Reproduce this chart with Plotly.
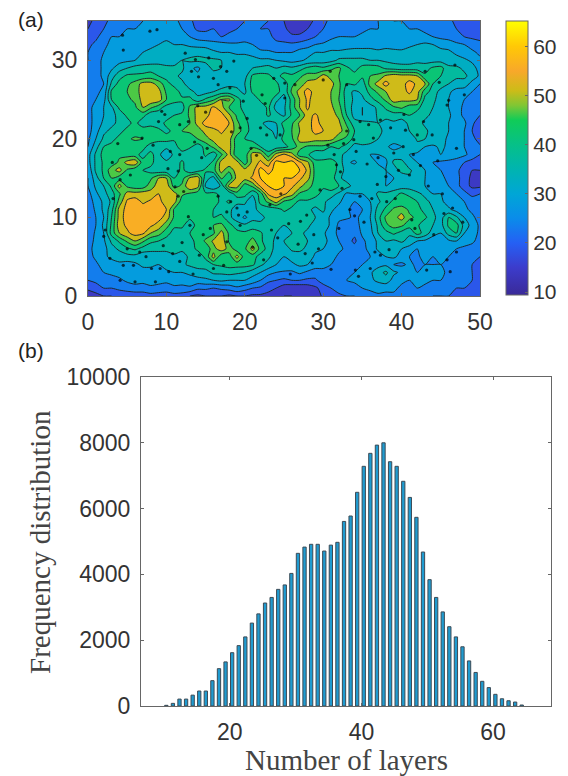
import plotly.graph_objects as go

W, H = 568, 776

# --- panel (a): thickness map, rows listed top to bottom
map_x = list(range(0, 51))
map_y = list(range(35, -1, -1))
map_z = [
 [14,16,18,22,24, 24,25,25,26,27, 27,26,24,21,18, 17,18,17,17,19, 20,21,21,20,18, 15,12,11,13,16, 19,21,21,22,22, 24,24,25,26,25, 25,24,24,23,21, 21,21,19,17,16, 15],
 [15,17,20,23,24, 25,25,26,27,27, 28,27,25,22,19, 19,20,18,19,20, 21,22,20,20,17, 16,13,13,15,18, 20,22,22,23,23, 24,25,25,26,26, 26,25,25,24,22, 22,21,20,18,17, 16],
 [17,19,22,25,25, 26,26,28,28,29, 29,28,27,25,23, 22,22,20,21,21, 23,23,22,21,19, 18,16,16,18,20, 21,24,25,25,25, 26,27,26,27,27, 28,27,27,26,25, 24,23,22,20,19, 18],
 [19,21,24,26,27, 27,28,29,29,30, 31,30,30,29,28, 28,27,27,26,26, 26,25,23,22,21, 21,21,22,23,25, 26,27,27,27,28, 28,28,28,29,27, 28,29,30,31,30, 28,28,26,25,23, 22],
 [20,23,25,26,27, 28,29,30,31,31, 32,31,32,33,34, 33,31,30,30,29, 29,28,26,26,25, 25,25,27,28,30, 30,31,31,32,32, 32,32,31,31,32, 31,32,33,33,32, 32,31,29,27,26, 24],
 [20,23,26,27,28, 29,30,31,32,33, 33,33,35,36,36, 36,36,35,34,33, 33,32,31,31,30, 29,28,29,31,31, 32,33,36,36,36, 36,35,35,34,33, 33,33,34,33,33, 33,33,32,31,29, 26],
 [21,23,26,29,33, 35,37,38,38,37, 36,36,36,31,29, 33,36,35,35,34, 34,35,36,37,35, 37,36,38,41,43, 41,44,46,41,38, 42,43,42,39,38, 37,37,37,38,41, 42,36,36,34,32, 28],
 [22,23,26,33,38, 41,41,41,42,40, 38,36,34,33,31, 30,33,34,33,32, 33,41,42,41,38, 42,41,44,47,46, 52,48,45,44,42, 41,45,46,51,53, 52,52,50,41,43, 40,37,36,36,33, 29],
 [21,24,25,36,42, 44,47,52,52,48, 42,38,36,33,32, 31,31,32,34,34, 35,42,41,42,41, 37,44,47,52,55, 53,52,46,40,41, 37,47,52,57,52, 53,57,54,50,40, 38,35,33,33,28, 25],
 [22,24,26,41,42, 45,48,52,55,52, 44,43,38,36,34, 33,35,37,37,36, 34,41,42,42,43, 36,46,52,57,53, 53,50,46,37,34, 36,42,46,50,55, 53,56,52,42,38, 33,31,28,27,25, 23],
 [23,25,28,40,44, 44,46,52,54,53, 45,42,41,42,36, 41,44,50,51,42, 37,36,41,44,36, 33,42,50,56,53, 52,50,45,38,34, 34,38,42,46,53, 51,52,50,38,36, 33,30,27,25,24, 22],
 [24,26,30,34,41, 42,44,50,46,42, 38,37,38,46,52, 52,56,52,45,41, 39,37,37,41,33, 34,42,50,56,51, 52,51,47,38,33, 30,33,36,41,44, 46,42,42,36,35, 32,30,27,24,23, 22],
 [23,27,30,33,37, 41,43,42,36,37, 38,40,41,46,52, 53,58,57,51,44, 40,37,36,41,37, 34,41,45,53,56, 52,52,49,40,33, 30,31,36,37,38, 37,40,37,36,34, 33,31,27,24,22, 20],
 [23,27,31,34,36, 38,42,36,37,38, 41,42,43,45,52, 57,59,59,55,46, 42,37,36,33,35, 42,44,51,53,57, 53,53,51,44,37, 37,36,35,33,34, 33,36,37,34,33, 32,30,28,26,21, 17],
 [23,28,34,36,38, 42,42,44,45,41, 39,41,45,46,47, 52,53,56,53,48, 42,38,37,36,34, 40,45,50,52,57, 55,53,52,47,40, 38,36,36,34,33, 33,35,36,36,33, 31,30,28,25,20, 18],
 [24,30,36,38,42, 44,46,45,44,42, 42,41,45,42,45, 48,52,53,52,42, 40,38,38,36,35, 42,44,52,54,52, 52,52,46,44,38, 38,38,35,33,33, 33,30,36,35,34, 32,29,27,25,22, 17],
 [25,33,40,42,44, 44,41,42,37,36, 36,37,44,41,37, 42,46,52,52,42, 41,44,40,37,37, 38,42,47,44,44, 44,40,41,38,33, 34,33,31,31,28, 30,31,33,30,29, 31,29,27,25,22, 21],
 [28,36,42,44,44, 42,42,38,42,36, 32,36,37,35,36, 41,37,44,52,41, 42,52,52,42,52, 56,52,42,41,36, 36,35,37,33,33, 31,30,30,31,33, 31,30,29,26,28, 30,30,28,26,23, 20],
 [28,36,41,42,46, 52,54,42,42,36, 36,37,41,36,36, 37,41,52,54,52, 42,52,56,52,62, 60,62,56,51,42, 42,44,38,31,29, 33,34,29,29,36, 37,31,30,27,25, 24,23,22,20,18, 16],
 [26,36,41,48,52, 44,41,40,38,36, 36,36,42,35,38, 41,43,52,46,53, 52,53,62,58,62, 64,62,60,54,43, 42,44,38,33,34, 34,33,33,30,32, 37,36,32,30,28, 25,23,21,18,15, 15],
 [25,33,40,45,42, 40,41,42,44,50, 50,40,43,51,53, 37,33,46,41,52, 52,56,60,62,64, 60,60,56,52,43, 43,43,36,33,33, 31,33,33,30,30, 31,34,32,30,27, 26,24,22,17,14, 14],
 [25,31,35,41,52, 44,42,42,48,52, 53,43,46,55,52, 34,30,36,52,52, 42,46,56,60,62, 60,56,52,46,44, 41,44,40,37,33, 33,33,32,30,31, 32,33,32,30,28, 27,25,22,17,14, 14],
 [23,29,33,38,44, 52,52,53,52,55, 52,52,46,44,42, 41,42,38,36,43, 42,36,42,56,58, 56,52,44,44,42, 38,37,34,29,30, 30,31,36,36,38, 41,38,36,34,30, 30,28,25,22,18, 20],
 [22,27,31,36,47, 56,58,54,56,57, 52,52,42,41,41, 41,44,38,41,36, 36,31,42,46,52, 44,42,39,39,37, 36,33,31,27,25, 26,30,34,38,41, 41,44,40,36,34, 31,28,26,25,24, 22],
 [21,26,31,38,52, 57,56,58,58,56, 55,44,41,42,40, 42,40,37,36,33, 33,34,36,37,37, 41,39,37,36,34, 36,31,28,26,23, 25,29,37,41,46, 48,44,42,38,35, 33,31,28,26,24, 22],
 [22,25,30,40,52, 58,58,56,58,57, 53,44,41,41,42, 41,40,42,36,33, 29,33,34,36,38, 37,37,36,36,35, 33,29,26,26,24, 26,30,38,46,48, 52,46,44,41,36, 33,40,36,30,26, 23],
 [22,25,31,41,53, 56,58,57,56,53, 47,41,41,37,42, 43,45,46,42,37, 36,38,36,36,37, 35,37,40,36,33, 33,29,24,21,22, 27,29,36,44,47, 46,42,41,36,35, 33,41,42,33,28, 24],
 [21,26,30,42,50, 54,57,56,50,47, 42,38,38,40,41, 42,44,52,44,42, 41,42,41,36,35, 34,35,36,34,33, 31,27,24,20,21, 26,28,35,38,41, 38,36,42,38,32, 30,37,40,30,27, 24],
 [23,26,29,36,41, 46,50,46,41,40, 38,37,36,39,41, 46,51,54,44,41, 42,47,41,37,34, 35,36,37,35,33, 31,29,25,22,19, 24,27,31,35,34, 36,33,30,29,27, 28,29,30,27,26, 23],
 [24,26,28,33,36, 39,41,38,37,36, 36,37,36,38,41, 41,48,53,48,42, 44,52,43,38,33, 32,36,36,34,31, 30,28,26,24,22, 24,26,31,32,33, 30,28,25,26,27, 28,27,25,24,23, 21],
 [23,26,29,31,32, 33,33,31,31,33, 33,34,33,36,37, 41,52,41,42,52, 42,42,38,36,32, 30,32,33,33,29, 28,27,24,24,23, 24,25,27,30,31, 28,25,24,27,25, 26,25,24,22,21, 20],
 [24,24,27,28,29, 28,29,31,31,30, 32,33,34,36,37, 38,40,41,42,42, 42,41,36,33,30, 30,29,31,30,27, 26,25,22,23,25, 25,27,28,29,25, 24,26,24,25,25, 25,24,22,21,20, 19],
 [21,23,25,26,27, 28,27,28,28,29, 29,30,30,31,33, 33,36,36,37,36, 35,32,30,27,25, 24,24,26,24,23, 24,24,23,25,25, 27,29,33,36,31, 29,26,25,26,26, 26,24,23,22,20, 19],
 [20,21,22,23,24, 26,27,27,27,26, 26,27,28,28,28, 29,30,31,30,30, 30,28,25,21,20, 19,20,20,19,19, 23,24,24,25,26, 28,29,31,33,28, 26,25,26,27,25, 25,24,22,21,20, 18],
 [16,18,20,20,21, 22,23,22,24,24, 23,24,23,24,21, 21,20,21,22,24, 22,20,19,17,15, 12,11,11,12,14, 17,20,22,23,23, 25,26,27,26,26, 24,24,25,23,22, 22,21,20,20,19, 18],
 [12,13,15,15,17, 17,17,18,18,17, 17,18,18,15,14, 15,15,15,14,15, 15,14,14,13,11, 10,10,11,11,12, 16,18,19,20,20, 23,23,24,24,24, 23,23,22,21,20, 20,20,19,19,18, 18],
]
# small closed contour speckles
speck_x = [4.4,7.9,8.8,4.5,12.4,13.7,15.4,16.9,17.7,18.6,13.2,14.1,16,16.6,18.1,19.8,22.2,22.6,23.7,25.1,9.4,9.8,9,11.7,12.8,18.3,19.4,20.3,22,22.8,24.5,6.9,8.3,10.5,11.7,
           26.4,25.1,30.9,30,33,34.7,35.8,37.3,38.6,40.5,42,43.9,46,45.8,46.8,40.3,36.4,33.9,32.6,42.8,47,
           4.1,5.4,3.2,2.2,2,2.8,4.5,5.8,8.1,9.2,10.3,11.7,6,12.8,13,14.7,16.6,17.7,12.2,11.5,11.1,17.7,19.2,20.3,19.4,16,17.3,4.1,8.6,
           27.1,28.8,27.9,32,29.6,32.2,31.7,32.4,34.7,36.2,39.2,38.1,41.3,41.7,45.4,37.3,38.4,36.6,34.1,34.5,36,43.2,46.2,45.8,44.1,47,
           14.5,15.2,13.6,20.8,21.5,23.4,24.2,25.6,26.8,27.7,28.6,29.4,31,33.4,34,35.2,36.9,38,39.6,41,42.4,43.4,44.6,45.2,46.5,47.8,3.1,3.8,5,6.6,7.4,9.6,10.8,12,13.4,14.2,15.6,18.2,19,21,22.4,23.2,24.6,25.8,30.6,31.4,33,34.2,35.6,37,39,40.2,41.5,43,44.8,48,14,15,11.5,10.2]
speck_y = [33.2,33.7,33.9,31.3,30.9,30.1,30.3,29.2,28.6,29.9,28.6,27.9,27.7,26.9,26.5,24.8,25.6,24.5,27.7,27.1,23.5,23.1,22.2,21.8,22.2,20.9,21.4,22.6,21.4,20.5,20.5,20.1,19.2,18.4,18,
           26.9,25.2,28.6,27.5,26.9,22.2,21.8,22.4,21.4,21.1,20.5,20.5,24.9,24.3,29.4,23.1,20.1,19.9,19.4,22.2,18.8,
           14.8,15.4,12.4,8.4,7.6,4.8,3.9,3.9,3.5,3.5,3.1,4.4,1.8,10.1,9,7.8,12.7,6.9,13.3,12.7,13.9,10.7,10.3,10.7,9,3.5,3.9,2,1.8,
           9.5,7.8,10.3,8.6,13.5,15.8,16.7,13.7,12.7,12.4,12.4,12,9.7,8.6,10.5,5.2,5.9,5.6,3.3,2.5,3.5,3.3,3.1,4.6,7.8,5.6,
           17.6,18.8,19.6,18.8,17.9,8.4,7.4,9.2,6.6,5.4,4.2,6,3.4,11,10.2,9.4,14.2,15.2,16,15.4,16.6,14,17.2,13,11.2,9.4,17,19.4,6,5.6,5,6.4,5.4,6.8,2.8,5.2,8.6,12,11.2,6.2,4.6,11.6,13,2.8,19.2,18,21,18.4,16.8,17.6,18.2,19,18,28.6,27.2,25.6,24.2,23.4,15.9,16.2]
cbar_ticks = [10, 20, 30, 40, 50, 60]
map_ticks_x = [0, 10, 20, 30, 40, 50]
map_ticks_y = [0, 10, 20, 30]
color_stops = [(9.4,"#3a2a98"),(15,"#3c3ccc"),(20,"#2560f4"),(25,"#0a8cea"),(30,"#00a6d6"),
               (35,"#00b4b0"),(40,"#06c088"),(45,"#10cc58"),(48,"#80c634"),(51,"#ccbc18"),
               (55,"#f8a82a"),(60,"#ffc806"),(65.2,"#ffff00")]

# --- panel (b): histogram
layers = list(range(10, 65))
freq = [20,80,210,210,330,455,455,770,1135,1340,1620,1835,2100,2520,2800,3130,3300,3545,3680,4030,
        4640,4830,4915,4915,4710,4890,4975,5610,5775,6495,7285,7680,7930,8000,7425,7285,6830,6340,5735,4680,
        3840,3300,2860,2410,2100,1800,1370,1020,750,560,355,220,160,120,30]
hist_ticks_x = [20, 40, 60]
hist_ticks_y = [0, 2000, 4000, 6000, 8000, 10000]

lo, hi = color_stops[0][0], color_stops[-1][0]
cscale = [[(v - lo) / (hi - lo), c] for v, c in color_stops]
TF = dict(family="Liberation Sans", size=23, color="#333333")
AX = "#666666"

fig = go.Figure()
fig.add_trace(go.Contour(x=map_x, y=map_y, z=map_z, colorscale=cscale, zmin=lo, zmax=hi,
    autocontour=False, contours=dict(start=10, end=65, size=5, coloring="fill", showlines=True),
    line=dict(color="#1c2a30", width=1, smoothing=0.7), showscale=False, xaxis="x", yaxis="y", hoverinfo="skip"))
fig.add_trace(go.Scatter(x=speck_x, y=speck_y, mode="markers", xaxis="x", yaxis="y", hoverinfo="skip",
    marker=dict(symbol="circle", size=3.2, color="rgba(0,0,0,0.7)")))
fig.add_trace(go.Scatter(x=map_x[:1], y=map_y[:1], mode="markers", xaxis="x", yaxis="y", hoverinfo="skip",
    marker=dict(size=1, opacity=0, color=[map_z[0][0]], colorscale=cscale, cmin=lo, cmax=hi, showscale=True,
        colorbar=dict(xref="paper", yref="paper", x=506/W, xanchor="left", y=1-295/H, yanchor="bottom",
            lenmode="fraction", len=274/H, thicknessmode="pixels", thickness=22, xpad=0, ypad=0,
            tickvals=cbar_ticks, ticks="inside", ticklen=3, tickcolor=AX,
            tickfont=dict(family="Liberation Sans", size=21, color="#333333"),
            outlinecolor=AX, outlinewidth=1))))
fig.add_trace(go.Bar(x=layers, y=freq, width=0.5, offset=0.1, xaxis="x2", yaxis="y2", hoverinfo="skip",
    marker=dict(color="#1f9bd0", line=dict(color="#3c4a55", width=1))))

common = dict(showgrid=False, zeroline=False, showline=True, linecolor=AX, linewidth=1, mirror="ticks",
              ticks="inside", ticklen=3, tickcolor=AX, tickfont=TF, tickformat="d", ticklabelstandoff=5)
SERIF = dict(family="Liberation Serif", size=29, color="#444444")
SANS = dict(family="Liberation Sans", size=21, color="#222222")
fig.update_layout(
    width=W, height=H, autosize=False, margin=dict(l=0, r=0, t=0, b=0, autoexpand=False), paper_bgcolor="white",
    plot_bgcolor="white", showlegend=False,
    xaxis=dict(domain=[88/W, 480/W], range=[0, 50], tickvals=map_ticks_x, **common),
    yaxis=dict(domain=[1-296/H, 1-21/H], range=[0, 35], tickvals=map_ticks_y, **common),
    xaxis2=dict(domain=[141/W, 551/W], range=[6.5, 68.8], tickvals=hist_ticks_x, anchor="y2", **common),
    yaxis2=dict(domain=[1-706/H, 1-377/H], range=[0, 10000], tickvals=hist_ticks_y, anchor="x2", **common),
    annotations=[
        dict(text="(a)", x=16/W, y=1-19/H, xref="paper", yref="paper", xanchor="left", yanchor="middle", showarrow=False, font=SANS),
        dict(text="(b)", x=16/W, y=1-351/H, xref="paper", yref="paper", xanchor="left", yanchor="middle", showarrow=False, font=SANS),
        dict(text="Number of layers", x=346/W, y=1-760/H, xref="paper", yref="paper", xanchor="center", yanchor="middle", showarrow=False, font=SERIF),
        dict(text="Frequency distribution", x=40/W, y=1-542/H, xref="paper", yref="paper", xanchor="center", yanchor="middle", showarrow=False, textangle=-90, font=SERIF),
    ],
)
fig.write_html("out.html", config=dict(displayModeBar=False), post_script="document.body.style.margin='0';")
